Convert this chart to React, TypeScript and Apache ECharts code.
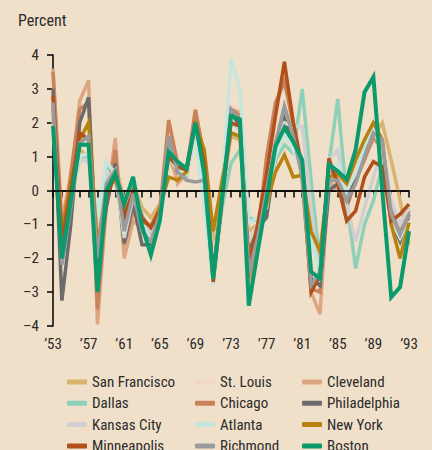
import React, { useEffect, useRef } from "react";
import * as echarts from "echarts";

const years: string[] = [];
for (let y = 1953; y <= 1993; y++) years.push(String(y));

const seriesNames = [
  "San Francisco", "St. Louis", "Cleveland",
  "Dallas", "Chicago", "Philadelphia",
  "Kansas City", "Atlanta", "New York",
  "Minneapolis", "Richmond", "Boston",
];

const sanFrancisco = [2.4, -1.4, 0.3, 1.2, 1.0, -1.0, 0.3, 0.8, -0.3, 0.2, -0.5, -0.8, -0.4, 1.0, 0.3, 0.6, 1.5, 0.8, -1.5, 0.0, 1.6, 1.5, -1.2, -1.0, -0.2, 1.0, 2.4, 1.6, 0.8, -1.5, -2.0, 0.3, 0.4, 0.0, 0.6, 1.2, 1.6, 2.0, 0.9, -0.3, -1.6];
const stLouis = [3.0, -1.0, 0.5, 2.2, 2.4, -2.5, 0.0, 1.0, -1.0, -0.3, -0.9, -1.0, -0.5, 1.2, 0.5, 0.6, 2.2, 1.0, -2.2, 0.0, 2.5, 2.4, -2.0, -1.2, 0.3, 2.0, 3.5, 2.2, 0.8, -2.2, -2.8, 0.5, 0.4, 0.0, 0.6, 1.2, 1.8, 1.6, -0.5, -1.0, -0.6];
const cleveland = [3.6, -0.8, 0.3, 2.65, 3.25, -3.95, -0.4, 1.55, -2.0, -0.9, -1.1, -1.2, -0.7, 1.4, 0.2, 0.5, 2.4, 0.9, -2.5, -0.3, 2.4, 2.3, -2.8, -1.5, 0.6, 2.4, 3.4, 1.8, 0.5, -3.0, -3.65, 0.3, 0.0, -0.3, 0.5, 1.0, 1.5, 1.3, -0.8, -1.3, -0.8];
const dallas = [2.2, -1.8, 0.0, 1.0, 1.0, -1.0, 0.8, 0.3, -1.0, 0.1, -0.7, -1.3, -0.8, 1.0, 0.8, 0.4, 1.8, 0.3, -2.3, -0.5, 0.8, 1.2, -0.8, -0.9, -0.1, 0.9, 1.35, 1.1, 3.0, 0.3, -2.2, 0.8, 2.7, -0.3, -2.3, -1.0, -0.3, 0.7, -0.6, -1.2, -0.6];
const chicago = [3.5, -1.3, 0.5, 2.4, 2.6, -3.5, -0.3, 1.2, -1.6, -0.6, -1.2, -1.3, -0.6, 2.08, 0.8, 0.55, 2.37, 1.0, -2.6, -0.1, 2.4, 2.2, -2.6, -1.3, 1.0, 2.6, 3.2, 2.0, 0.3, -2.9, -3.0, 0.7, 0.3, -0.5, 0.3, 0.9, 1.6, 1.3, -0.6, -1.1, -0.6];
const philadelphia = [3.0, -3.25, -1.0, 2.0, 2.75, -2.3, -0.5, 0.8, -1.55, -0.35, -1.6, -1.6, -0.9, 1.3, 0.55, 0.65, 2.0, 0.8, -2.5, 0.0, 2.3, 1.9, -1.85, -1.1, -0.8, 1.0, 2.1, 1.3, 0.6, -2.6, -2.8, 0.0, 0.2, -0.4, 0.4, 1.2, 1.9, 1.2, -0.9, -1.5, -0.7];
const kansasCity = [2.0, -1.6, -0.2, 0.9, 0.85, -1.2, 0.4, 0.6, -1.4, -0.2, -0.9, -1.2, -0.8, 1.2, 0.7, 0.5, 1.8, 0.5, -2.8, -0.3, 2.0, 1.8, -1.5, -1.0, -0.3, 1.2, 2.0, 1.9, 1.9, -0.5, -2.7, 0.9, 1.2, -0.4, -1.5, -0.5, 0.4, 1.2, -0.3, -1.0, -0.5];
const atlanta = [2.5, -1.5, 0.0, 1.0, 1.1, -0.8, 0.86, 0.5, -1.3, 0.2, -1.0, -1.4, -1.0, 1.0, 0.6, 0.5, 1.5, -0.5, -2.8, 0.0, 3.9, 3.0, -0.95, -0.8, -0.5, 1.0, 1.7, 1.2, 0.5, -1.5, -2.4, 0.6, 0.8, 0.0, 0.5, 1.3, 1.8, 1.2, -0.9, -1.4, -0.9];
const newYork = [2.5, -1.2, 0.2, 1.5, 2.0, -1.65, 0.0, 0.35, -0.65, -0.1, -0.9, -1.05, -0.5, 0.4, 0.3, 0.55, 1.95, 1.2, -1.2, 0.3, 1.7, 1.6, -1.95, -1.3, -0.4, 0.55, 1.05, 0.4, 0.45, -1.2, -1.8, 0.4, 0.5, 0.2, 0.9, 1.5, 2.0, 1.5, -1.0, -2.0, -0.95];
const minneapolis = [2.8, -1.5, 0.0, 1.7, 1.5, -2.0, -0.2, 0.5, -0.8, 0.0, -0.8, -1.1, -0.6, 1.0, 0.7, 0.6, 2.0, 0.8, -2.7, -0.3, 2.0, 1.9, -2.2, -1.0, 0.5, 2.2, 3.8, 2.0, 0.7, -3.0, -2.5, 0.95, 0.2, -0.9, -0.6, 0.4, 0.85, 0.7, -0.9, -0.7, -0.4];
const richmond = [2.6, -2.2, -0.5, 1.4, 1.6, -2.0, 0.2, 0.6, -1.2, -0.1, -1.2, -1.5, -0.7, 1.6, 0.55, 0.3, 0.25, 0.3, -2.6, -0.2, 2.4, 2.1, -2.4, -1.4, 0.0, 1.4, 2.5, 1.6, 0.4, -2.8, -2.4, 0.3, 0.3, -0.3, 0.2, 1.0, 1.7, 1.5, -0.7, -1.3, -0.7];
const boston = [1.9, -2.0, -0.3, 1.35, 1.35, -3.0, 0.0, 0.5, -0.4, 0.4, -1.05, -1.9, -0.9, 1.15, 0.85, 0.65, 2.0, 0.5, -2.6, -0.2, 2.2, 2.1, -3.4, -1.8, -0.25, 1.3, 1.85, 1.45, 0.9, -2.4, -2.6, 0.77, 0.57, 0.32, 1.2, 2.9, 3.35, 0.0, -3.15, -2.85, -1.2];

const seriesValues = [
  sanFrancisco, stLouis, cleveland,
  dallas, chicago, philadelphia,
  kansasCity, atlanta, newYork,
  minneapolis, richmond, boston,
];

const seriesColors = [
  "#d9b36f", "#f2d7c4", "#dda682",
  "#8fd0b8", "#c9835a", "#6b6b6b",
  "#d0d0d0", "#c6e6dc", "#b8820f",
  "#b0501a", "#9b9b9b", "#0a9a6c",
];

const FONT = "'Liberation Sans Narrow', 'Arial Narrow', 'Roboto Condensed', sans-serif";
const TEXT = "#2b2b2b";

export default function App() {
  const ref = useRef<HTMLDivElement>(null);
  useEffect(() => {
    if (!ref.current) return;
    const chart = echarts.init(ref.current, undefined, { renderer: "svg" });
    const series: any[] = seriesNames.map((name, i) => ({
      name,
      type: "line",
      data: seriesValues[i],
      showSymbol: false,
      symbol: "none",
      lineStyle: { color: seriesColors[i], width: name === "Boston" ? 4 : 3.5, join: "miter" },
      itemStyle: { color: seriesColors[i] },
      z: 2,
    }));
    series[0].markLine = {
      silent: true,
      symbol: ["none", "none"],
      label: { show: false },
      lineStyle: { color: "#000", width: 1.5, type: "solid" },
      data: [{ yAxis: 0 }],
    };
    const legendCols = [0, 1, 2].map((c) => ({
      orient: "vertical",
      left: [62, 190, 297][c],
      top: 369,
      height: 120,
      width: 130,
      itemWidth: 20,
      itemHeight: 5,
      itemGap: 5.3,
      itemTextGap: 6,
      icon: "roundRect",
      selectedMode: false,
      data: [0, 1, 2, 3].map((r) => seriesNames[r * 3 + c]),
      textStyle: { fontFamily: FONT, fontSize: 15, color: TEXT, lineHeight: 16 },
    }));
    chart.setOption({
      animation: false,
      backgroundColor: "#f0e0c9",
      grid: { left: 53, right: 23, top: 55, bottom: 124, containLabel: false },
      xAxis: {
        type: "category",
        data: years,
        boundaryGap: false,
        axisLine: { show: true, lineStyle: { color: "#000", width: 1.5 } },
        axisTick: { show: true, interval: 0, length: 7, lineStyle: { color: "#000", width: 1.5 } },
        axisLabel: {
          interval: 3,
          margin: 10,
          fontFamily: FONT,
          fontSize: 15,
          color: TEXT,
          formatter: (v: string) => "\u2019" + v.slice(2),
        },
        splitLine: { show: false },
      },
      yAxis: {
        type: "value",
        min: -4,
        max: 4,
        interval: 1,
        axisLine: { show: true, lineStyle: { color: "#000", width: 1.5 } },
        axisTick: { show: true, length: 6, lineStyle: { color: "#000", width: 1.5 } },
        axisLabel: {
          margin: 14,
          fontFamily: FONT,
          fontSize: 15,
          color: TEXT,
          formatter: (v: number) => (v < 0 ? "\u2013" + Math.abs(v) : String(v)),
        },
        splitLine: { show: false },
      },
      legend: legendCols,
      graphic: [
        {
          type: "text",
          left: 18,
          top: 12,
          style: { text: "Percent", fontFamily: FONT, fontSize: 16, fill: TEXT },
        },
      ],
      series,
    });
    return () => chart.dispose();
  }, []);
  return (
    <div
      ref={ref}
      style={{ position: "fixed", left: 0, top: 0, width: 432, height: 450 }}
    />
  );
}
